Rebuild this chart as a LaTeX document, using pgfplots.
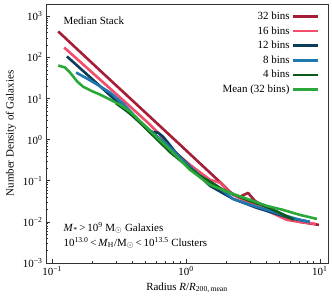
\documentclass[border=0pt]{standalone}
\usepackage{pgfplots}
\pgfplotsset{compat=1.18}
\usepackage{fontspec}
\setmainfont{Liberation Serif}
\definecolor{cred}{HTML}{A51D36}
\definecolor{cpink}{HTML}{F24D6B}
\definecolor{cnavy}{HTML}{0C3C5A}
\definecolor{cblue}{HTML}{1F78B0}
\definecolor{cdgreen}{HTML}{0A5A1A}
\definecolor{cgreen}{HTML}{2BA83A}
\begin{document}
\begin{tikzpicture}
\begin{axis}[
  at={(0,0)}, anchor=south west,
  scale only axis, width=282bp, height=259bp,
  xmode=log, ymode=log,
  xmin=0.09, xmax=11.5, ymin=1e-3, ymax=2000,
  font=\fontsize{11}{13}\selectfont,
  tick pos=left,
  tick align=inside,
  major tick length=4bp, minor tick length=2bp,
  axis line style={line width=0.9pt, black!80},
  every tick/.style={black!80, line width=0.6pt},
  xtick={0.1,1,10},
  xticklabels={10\textsuperscript{−1},10\textsuperscript{0},10\textsuperscript{1}},
  ytick={1e-3,1e-2,1e-1,1,10,100,1000},
  yticklabels={10\textsuperscript{−3},10\textsuperscript{−2},10\textsuperscript{−1},10\textsuperscript{0},10\textsuperscript{1},10\textsuperscript{2},10\textsuperscript{3}},
  xlabel={Radius \textit{R}/\textit{R}\textsubscript{200,\,mean}},
  ylabel={Number Density of Galaxies},
  legend style={at={(rel axis cs:0.98,0.985)}, anchor=north east, draw=none, fill=none,
    font=\fontsize{11}{13}\selectfont, row sep=1.5pt},
  legend cell align=right,
  legend plot pos=right,
  legend image code/.code={\draw[#1] (0bp,0bp) -- (25bp,0bp);},
  every axis plot/.append style={line width=2.6bp, line join=round},
]
\addplot[cred] coordinates {(0.111,430)(0.228,48.2)(0.454,6.03)(0.902,0.755)(1.888,0.0798)(2.244,0.0456)(2.529,0.0407)(2.904,0.0509)(3.273,0.0325)(4.236,0.0196)(5.675,0.0118)(7.096,0.0100)(9.84,0.00845)};
\addlegendentry{32 bins}
\addplot[cpink] coordinates {(0.123,175)(0.228,29.0)(0.369,7.14)(0.538,2.32)(0.640,1.324)(0.787,0.570)(1.072,0.245)(1.510,0.106)(1.795,0.0893)(2.023,0.0603)(2.404,0.0407)(3.006,0.0290)(4.236,0.0175)(5.675,0.0112)(7.096,0.0100)(9.33,0.00893)};
\addlegendentry{16 bins}
\addplot[cnavy] coordinates {(0.129,106)(0.217,23.2)(0.382,4.31)(0.538,1.567)(0.618,1.48)(0.673,1.183)(0.734,0.845)(0.828,0.509)(1.072,0.219)(1.510,0.0755)(2.244,0.0364)(3.388,0.0219)(4.236,0.0175)(5.97,0.0125)(8.41,0.0100)};
\addlegendentry{12 bins}
\addplot[cblue] coordinates {(0.151,43.1)(0.182,30.8)(0.217,21.9)(0.271,14.0)(0.339,7.55)(0.454,2.75)(0.587,1.324)(0.697,0.845)(0.902,0.364)(1.271,0.1324)(1.702,0.0755)(2.244,0.0364)(3.006,0.0260)(4.018,0.0196)(5.30,0.0148)(7.096,0.0112)(8.41,0.0100)};
\addlegendentry{8 bins}
\addplot[cdgreen] coordinates {(0.30,7.7)(0.40,3.9)(0.538,1.50)(0.760,0.50)(1.072,0.200)(1.271,0.1324)(1.888,0.0603)(2.851,0.0344)(4.018,0.0232)(5.02,0.0166)(6.40,0.0112)};
\addlegendentry{4 bins}
\addplot[cgreen] coordinates {(0.111,63.8)(0.125,57.0)(0.136,43.1)(0.154,26.0)(0.170,19.6)(0.202,14.8)(0.228,12.5)(0.271,9.46)(0.321,7.14)(0.382,4.82)(0.538,1.66)(0.760,0.570)(1.072,0.185)(1.510,0.0798)(2.128,0.0509)(3.006,0.0344)(4.018,0.0245)(5.30,0.0196)(7.096,0.0148)(9.51,0.0118)};
\addlegendentry{Mean (32 bins)}
\node[anchor=west, font=\fontsize{11}{13}\selectfont] at (rel axis cs:0.05,0.934) {Median Stack};
\node[anchor=west, font=\fontsize{11}{13}\selectfont] at (rel axis cs:0.05,0.135) {\textit{M}\textsubscript{*}\,>\,10\textsuperscript{9} M$_\odot$ Galaxies};
\node[anchor=west, font=\fontsize{11}{13}\selectfont] at (rel axis cs:0.05,0.077) {10\textsuperscript{13.0}\,<\,\textit{M}\textsubscript{H}/M$_\odot$\,<\,10\textsuperscript{13.5} Clusters};
\end{axis}
\pgfresetboundingbox
\path[use as bounding box] (-46bp,-37bp) rectangle (286bp,263bp);
\end{tikzpicture}
\end{document}
